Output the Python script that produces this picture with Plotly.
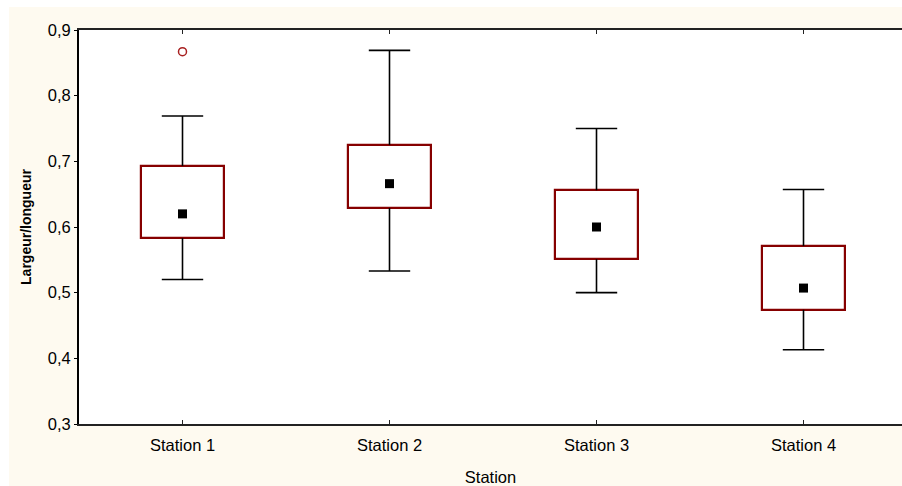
import plotly.graph_objects as go

# Width/length ratio per sampling station (median, quartile box, non-outlier range)
stations = ["Station 1", "Station 2", "Station 3", "Station 4"]
upper_whisker = [0.769, 0.869, 0.750, 0.657]
q3 = [0.693, 0.725, 0.656, 0.571]
median = [0.620, 0.666, 0.600, 0.507]
q1 = [0.583, 0.629, 0.551, 0.474]
lower_whisker = [0.520, 0.533, 0.500, 0.413]
outlier_station = [1]
outlier_value = [0.867]

y_ticks = [0.3, 0.4, 0.5, 0.6, 0.7, 0.8, 0.9]
y_tick_labels = ["0,3", "0,4", "0,5", "0,6", "0,7", "0,8", "0,9"]

xpos = list(range(1, len(stations) + 1))
BOX_W = 0.4
CAP_W = 0.2
BOX_COLOR = "#860000"
CREAM = "#FEFAF0"

W, H = 902, 486
ML, MR, MT, MB = 79, 0, 30, 62
pw, ph = W - ML - MR, H - MT - MB

fig = go.Figure()

# whisker stems (outside the box) and caps
stem_x, stem_y, cap_x, cap_y = [], [], [], []
for x, lo, a, b, hi in zip(xpos, lower_whisker, q1, q3, upper_whisker):
    stem_x += [x, x, None, x, x, None]
    stem_y += [lo, a, None, b, hi, None]
    cap_x += [x - CAP_W / 2, x + CAP_W / 2, None, x - CAP_W / 2, x + CAP_W / 2, None]
    cap_y += [lo, lo, None, hi, hi, None]

fig.add_trace(go.Scatter(x=stem_x + cap_x, y=stem_y + cap_y, mode="lines",
                         line=dict(color="black", width=1.6), hoverinfo="skip"))

# quartile boxes
fig.add_trace(go.Bar(x=xpos, base=q1, y=[b - a for a, b in zip(q1, q3)],
                     width=BOX_W, marker=dict(color="white",
                                              line=dict(color=BOX_COLOR, width=2.2))))

# medians
fig.add_trace(go.Scatter(x=xpos, y=median, mode="markers",
                         marker=dict(symbol="square", size=9, color="black")))

# outliers
fig.add_trace(go.Scatter(x=outlier_station, y=outlier_value, mode="markers",
                         marker=dict(symbol="circle-open", size=8,
                                     color="#A82020", line=dict(width=1.5))))

# cream page with a thin white border on the top and left
px_x = lambda p: (p - ML) / pw
px_y = lambda p: (H - MB - p) / ph
shapes = [
    dict(type="rect", xref="paper", yref="paper", layer="below",
         x0=px_x(0), x1=px_x(W), y0=px_y(0), y1=px_y(7),
         fillcolor="white", line=dict(width=0)),
    dict(type="rect", xref="paper", yref="paper", layer="below",
         x0=px_x(0), x1=px_x(9), y0=px_y(0), y1=px_y(H),
         fillcolor="white", line=dict(width=0)),
]

x_right = 0.5 + pw / 207.0

fig.update_layout(
    width=W, height=H,
    margin=dict(l=ML, r=MR, t=MT, b=MB, pad=0),
    paper_bgcolor=CREAM, plot_bgcolor="white",
    showlegend=False, bargap=0,
    font=dict(family="Liberation Sans, Arial, sans-serif", color="black", size=16),
    shapes=shapes,
    xaxis=dict(range=[0.5, x_right], tickvals=xpos, ticktext=stations,
               showline=True, linecolor="#222", linewidth=2, mirror="ticks",
               ticks="inside", ticklen=4, tickwidth=1, tickcolor="#222",
               ticklabelstandoff=5,
               showgrid=False, zeroline=False, tickfont=dict(size=16.5),
               title=dict(text="Station", font=dict(size=16.5), standoff=19)),
    yaxis=dict(range=[0.3, 0.9], tickvals=y_ticks, ticktext=y_tick_labels,
               showline=True, linecolor="black", linewidth=2,
               ticks="outside", ticklen=3, tickwidth=1, tickcolor="black",
               showgrid=False, zeroline=False, tickfont=dict(size=16.5),
               title=dict(text="Largeur/longueur",
                          font=dict(size=14, weight="bold"), standoff=13)),
)

fig.write_html("out.html")
